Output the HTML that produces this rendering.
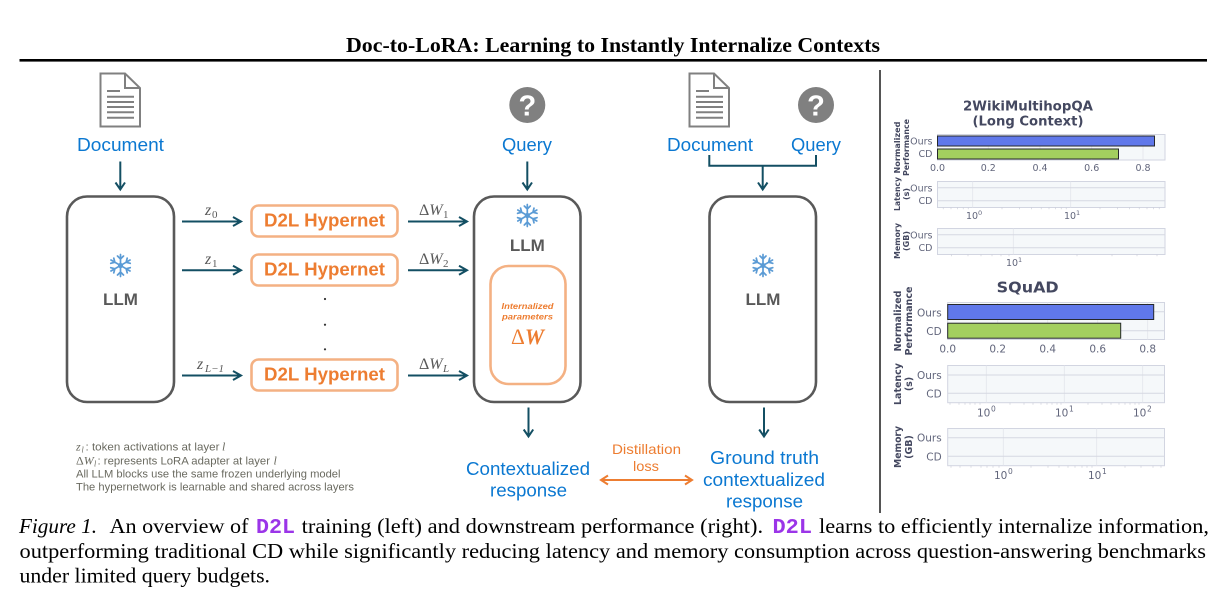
<!DOCTYPE html>
<html lang="en"><head><meta charset="utf-8"><title>Doc-to-LoRA</title>
<style>html,body{margin:0;padding:0;background:#fff;width:1224px;height:601px;overflow:hidden}svg{display:block}
.sa{font-family:"Liberation Sans",sans-serif}.se{font-family:"Liberation Serif",serif}.dj{font-family:"DejaVu Sans",sans-serif}
.blue{font-size:18px;fill:#0b78d1}.hyp{font-size:18px;font-weight:bold;fill:#ed7d31}.llm{font-size:17px;font-weight:bold;fill:#595959;text-anchor:middle}
.m{font-style:italic;font-size:16px;fill:#595959}.up{font-style:normal}.sub{font-size:11px;fill:#595959}
.leg{font-size:11px;fill:#6a6a60}.cap{font-size:21px;fill:#000}.d2l{font-family:"Liberation Mono",monospace;font-weight:bold;font-size:21px;fill:#9b35e8}
.y1{font-size:8px;font-weight:bold;fill:#444860;text-anchor:middle}.y2{font-size:9.5px;font-weight:bold;fill:#444860;text-anchor:middle}
.t1{font-size:9.5px;fill:#62667c}.t2{font-size:10.5px;fill:#62667c}.r{text-anchor:end}.c{text-anchor:middle}
.arr{fill:none;stroke:#134f63;stroke-width:2}.box{fill:#fff;stroke:#595959;stroke-width:2.6}.hb{fill:#fff;stroke:#f4b183;stroke-width:2.6}
.plot{fill:#f5f8fa;stroke:#d2d5e1;stroke-width:1}.g{stroke:#e3e5ec;stroke-width:.8;fill:none}.h{stroke:#d5d8e1;stroke-width:1;fill:none}.mt{stroke:#c5c8d4;stroke-width:.6;fill:none}
.bar{stroke:#26282c;stroke-width:1}</style></head><body>
<svg width="1224" height="601" viewBox="0 0 1224 601" xmlns="http://www.w3.org/2000/svg">
<defs>
<g id="flake" fill="none" stroke="#5b9bd5" stroke-width="1.7" stroke-linecap="round">
<circle r="2.6" fill="#5b9bd5" stroke="none"/>
<path d="M0-11V11M-3-9.500 0-6.500 3-9.500M-3 9.500 0 6.500 3 9.500"/>
<g transform="rotate(60)"><path d="M0-11V11M-3-9.500 0-6.500 3-9.500M-3 9.500 0 6.500 3 9.500"/></g>
<g transform="rotate(120)"><path d="M0-11V11M-3-9.500 0-6.500 3-9.500M-3 9.500 0 6.500 3 9.500"/></g>
</g>
<g id="doc"><path d="M.5.5H25L40 15V53.500H.5Z" fill="#fff" stroke="#808080" stroke-width="2"/><path d="M25 .5V15H40" fill="none" stroke="#808080" stroke-width="2"/>
<path d="M7 18H20M7 23.700H34M7 29H34M7 34H34M7 39.300H34M7 44.700H34" stroke="#808080" stroke-width="2" fill="none"/></g>
</defs>

<text x="346" y="52" class="se" font-size="21.500" font-weight="bold" textLength="534" lengthAdjust="spacingAndGlyphs">Doc-to-LoRA: Learning to Instantly Internalize Contexts</text>
<rect x="19.500" y="59" width="1187.500" height="2.600" fill="#000"/>

<use href="#doc" x="100" y="73"/>
<text x="77" y="151" class="sa blue" textLength="87" lengthAdjust="spacingAndGlyphs">Document</text>
<path class="arr" d="M120.300 161.500V189M115.500 182.500 120.300 189.500 125 182.500"/>
<rect class="box" x="67" y="196.500" width="107" height="205.500" rx="20"/>
<use href="#flake" x="120.500" y="265.500"/>
<text x="120.500" y="305" class="sa llm">LLM</text>

<path class="arr" d="M182 221.500H240M233 217 241 221.500 233 226M182 270.300H240M233 265.800 241 270.300 233 274.800M182 375.500H240M233 371 241 375.500 233 380"/>
<path class="arr" d="M408 221.500H466M459 217 467 221.500 459 226M408 270.300H466M459 265.800 467 270.300 459 274.800M408 375.500H466M459 371 467 375.500 459 380"/>
<text x="205" y="215" class="se m">z</text><text x="212" y="218" class="se sub">0</text>
<text x="205" y="264" class="se m">z</text><text x="212" y="267" class="se sub">1</text>
<text x="197" y="369" class="se m">z</text><text x="205" y="372" class="se sub" font-style="italic">L−1</text>
<text x="419" y="215" class="se m"><tspan class="up">Δ</tspan>W</text><text x="443" y="218" class="se sub">1</text>
<text x="419" y="264" class="se m"><tspan class="up">Δ</tspan>W</text><text x="443" y="267" class="se sub">2</text>
<text x="419" y="369" class="se m"><tspan class="up">Δ</tspan>W</text><text x="443" y="372" class="se sub" font-style="italic">L</text>

<rect class="hb" x="251.500" y="205.500" width="146" height="31" rx="7"/>
<rect class="hb" x="251.500" y="254.500" width="146" height="31" rx="7"/>
<rect class="hb" x="251.500" y="359.500" width="146" height="31" rx="7"/>
<text x="264" y="226.700" class="sa hyp" textLength="121" lengthAdjust="spacingAndGlyphs">D2L Hypernet</text>
<text x="264" y="275.700" class="sa hyp" textLength="121" lengthAdjust="spacingAndGlyphs">D2L Hypernet</text>
<text x="264" y="380.700" class="sa hyp" textLength="121" lengthAdjust="spacingAndGlyphs">D2L Hypernet</text>
<circle cx="325" cy="299" r="1.100" fill="#333"/><circle cx="325" cy="324.700" r="1.100" fill="#333"/><circle cx="325" cy="349.300" r="1.100" fill="#333"/>

<circle cx="527.300" cy="105" r="18" fill="#808080"/>
<text x="527.300" y="115.500" class="sa c" font-size="29" font-weight="bold" fill="#fff">?</text>
<text x="502" y="151" class="sa blue" textLength="50" lengthAdjust="spacingAndGlyphs">Query</text>
<path class="arr" d="M527.300 161.500V189M522.500 182.500 527.300 189.500 532 182.500"/>
<rect class="box" x="474" y="196.500" width="106.500" height="205.500" rx="20"/>
<use href="#flake" x="527.300" y="215.500"/>
<text x="527.300" y="251" class="sa llm">LLM</text>
<rect x="490.500" y="266" width="75" height="118" rx="18" fill="#fff" stroke="#f4b183" stroke-width="2.600"/>
<text x="527.500" y="309" class="sa c" font-size="8.500" font-weight="bold" font-style="italic" fill="#ed7d31" textLength="52" lengthAdjust="spacingAndGlyphs">Internalized</text>
<text x="527.500" y="319.500" class="sa c" font-size="8.500" font-weight="bold" font-style="italic" fill="#ed7d31" textLength="51" lengthAdjust="spacingAndGlyphs">parameters</text>
<text x="511" y="344" class="se" font-size="22" font-weight="bold" font-style="italic" fill="#ed7d31" textLength="33" lengthAdjust="spacingAndGlyphs"><tspan font-style="normal" font-weight="normal">Δ</tspan>W</text>
<path class="arr" d="M528.500 407.500V436M523.700 429.500 528.500 436.500 533.200 429.500"/>
<text x="466" y="475" class="sa blue" textLength="124" lengthAdjust="spacingAndGlyphs">Contextualized</text>
<text x="490" y="496.500" class="sa blue" textLength="77" lengthAdjust="spacingAndGlyphs">response</text>

<use href="#doc" x="689" y="73"/>
<circle cx="816" cy="105" r="18" fill="#808080"/>
<text x="816" y="115.500" class="sa c" font-size="29" font-weight="bold" fill="#fff">?</text>
<text x="667" y="151" class="sa blue" textLength="86" lengthAdjust="spacingAndGlyphs">Document</text>
<text x="791" y="151" class="sa blue" textLength="50" lengthAdjust="spacingAndGlyphs">Query</text>
<path class="arr" d="M709.300 155V165.700H816V155M762.700 165.700V189M758 182.500 762.700 189.500 767.500 182.500"/>
<rect class="box" x="709.500" y="196.500" width="106.500" height="205.500" rx="20"/>
<use href="#flake" x="763" y="265.500"/>
<text x="763" y="305" class="sa llm">LLM</text>
<path class="arr" d="M764 407.500V436M759.200 429.500 764 436.500 768.700 429.500"/>
<text x="710" y="464" class="sa blue" textLength="109" lengthAdjust="spacingAndGlyphs">Ground truth</text>
<text x="703" y="486" class="sa blue" textLength="122" lengthAdjust="spacingAndGlyphs">contextualized</text>
<text x="726" y="507.500" class="sa blue" textLength="77" lengthAdjust="spacingAndGlyphs">response</text>

<text x="612" y="454" class="sa" font-size="14" fill="#ed7d31" textLength="69" lengthAdjust="spacingAndGlyphs">Distillation</text>
<text x="633" y="471" class="sa" font-size="14" fill="#ed7d31" textLength="26" lengthAdjust="spacingAndGlyphs">loss</text>
<path d="M602 480H691M608 475.500 601 480 608 484.500M685 475.500 692 480 685 484.500" fill="none" stroke="#ed7d31" stroke-width="2"/>

<g class="sa leg">
<text x="76" y="450.700" class="se" font-style="italic" font-size="12">z</text><text x="81.500" y="452.700" class="se" font-style="italic" font-size="8">l</text>
<text x="85.500" y="450.700" textLength="134" lengthAdjust="spacingAndGlyphs">: token activations at layer</text><text x="222" y="450.700" class="se" font-style="italic" font-size="12">l</text>
<text x="76" y="464.700" class="se" font-style="italic" font-size="12"><tspan font-style="normal">Δ</tspan>W</text><text x="94" y="466.700" class="se" font-style="italic" font-size="8">l</text>
<text x="97.500" y="464.700" textLength="172.500" lengthAdjust="spacingAndGlyphs">: represents LoRA adapter at layer</text><text x="273.500" y="464.700" class="se" font-style="italic" font-size="12">l</text>
<text x="76" y="477.700" textLength="264.500" lengthAdjust="spacingAndGlyphs">All LLM blocks use the same frozen underlying model</text>
<text x="76" y="490.500" textLength="278" lengthAdjust="spacingAndGlyphs">The hypernetwork is learnable and shared across layers</text>
</g>

<rect x="879" y="70" width="2" height="443" fill="#555"/>

<!-- chart 1 -->
<text x="1028" y="110.700" class="dj c" font-size="13.500" font-weight="bold" fill="#444860" textLength="130" lengthAdjust="spacingAndGlyphs">2WikiMultihopQA</text>
<text x="1028" y="125.700" class="dj c" font-size="13.500" font-weight="bold" fill="#444860" textLength="111" lengthAdjust="spacingAndGlyphs">(Long Context)</text>
<rect class="plot" x="937.500" y="134.500" width="227.500" height="25.500"/>
<path class="g" d="M988.300 134.500V160M1040 134.500V160M1091.700 134.500V160M1143 134.500V160"/>
<rect class="bar" x="937.500" y="136" width="217" height="10" fill="#6078ea"/>
<rect class="bar" x="937.500" y="149" width="181" height="10" fill="#a3cf5f"/>
<g class="dj t1"><text x="932.500" y="144.500" class="r">Ours</text><text x="932.500" y="157" class="r">CD</text>
<text x="937.500" y="171" class="c">0.0</text><text x="988.300" y="171" class="c">0.2</text><text x="1040" y="171" class="c">0.4</text><text x="1091.700" y="171" class="c">0.6</text><text x="1143" y="171" class="c">0.8</text></g>
<g class="dj y1"><text transform="translate(900,147.500) rotate(-90)" textLength="52" lengthAdjust="spacingAndGlyphs">Normalized</text><text transform="translate(909,147.500) rotate(-90)" textLength="57" lengthAdjust="spacingAndGlyphs">Performance</text>
<text transform="translate(900,194) rotate(-90)" textLength="34" lengthAdjust="spacingAndGlyphs">Latency</text><text transform="translate(909,194) rotate(-90)">(s)</text>
<text transform="translate(900,241) rotate(-90)" textLength="36" lengthAdjust="spacingAndGlyphs">Memory</text><text transform="translate(909,241) rotate(-90)">(GB)</text></g>

<rect class="plot" x="937.500" y="181.500" width="227.500" height="26"/>
<path class="g" d="M972.700 181.500V207.500M1070.700 181.500V207.500"/>
<path class="h" d="M937.500 187.700H1165M937.500 200.700H1165"/>
<path class="mt" d="M943.200 207.500v1.800M951 207.500v1.800M957.500 207.500v1.800M963.200 207.500v1.800M968.200 207.500v1.800M1002 207.500v1.800M1019.500 207.500v1.800M1031.700 207.500v1.800M1041.200 207.500v1.800M1049 207.500v1.800M1055.500 207.500v1.800M1061.200 207.500v1.800M1066.200 207.500v1.800M1100 207.500v1.800M1117.500 207.500v1.800M1129.700 207.500v1.800M1139.200 207.500v1.800M1147 207.500v1.800M1153.500 207.500v1.800M1159.200 207.500v1.800"/>
<g class="dj t1"><text x="932.500" y="191.500" class="r">Ours</text><text x="932.500" y="204" class="r">CD</text>
<text x="966" y="219">10</text><text x="978" y="215" font-size="6.500">0</text>
<text x="1064" y="219">10</text><text x="1076" y="215" font-size="6.500">1</text></g>

<rect class="plot" x="937.500" y="228.500" width="227.500" height="26"/>
<path class="g" d="M1013.300 228.500V254.500"/>
<path class="h" d="M937.500 234.700H1165M937.500 247.700H1165"/>
<path class="mt" d="M951.500 254.500v1.800M968 254.500v1.800M981 254.500v1.800M992 254.500v1.800M1001 254.500v1.800M1009 254.500v1.800M1077 254.500v1.800M1112 254.500v1.800M1137 254.500v1.800M1157 254.500v1.800"/>
<g class="dj t1"><text x="932.500" y="238.500" class="r">Ours</text><text x="932.500" y="251" class="r">CD</text>
<text x="1006" y="266">10</text><text x="1018" y="262" font-size="6.500">1</text></g>

<!-- chart 2 -->
<text x="1027.700" y="292.700" class="dj c" font-size="15.500" font-weight="bold" fill="#444860" textLength="62" lengthAdjust="spacingAndGlyphs">SQuAD</text>
<rect class="plot" x="947.700" y="302.500" width="216.800" height="37"/>
<path class="g" d="M997.700 302.500V339.500M1047.700 302.500V339.500M1097.700 302.500V339.500M1147.700 302.500V339.500"/>
<path class="h" d="M1153.700 311.800H1164.500M1120.700 330.700H1164.500"/>
<rect class="bar" x="947.700" y="304.500" width="206" height="15" fill="#6078ea"/>
<rect class="bar" x="947.700" y="323.200" width="173" height="15" fill="#a3cf5f"/>
<g class="dj t2"><text x="941.700" y="316.500" class="r">Ours</text><text x="941.700" y="335" class="r">CD</text>
<text x="947.700" y="352.700" class="c">0.0</text><text x="997.700" y="352.700" class="c">0.2</text><text x="1047.700" y="352.700" class="c">0.4</text><text x="1097.700" y="352.700" class="c">0.6</text><text x="1147.700" y="352.700" class="c">0.8</text></g>
<g class="dj y2"><text transform="translate(901,321) rotate(-90)" textLength="61" lengthAdjust="spacingAndGlyphs">Normalized</text><text transform="translate(912,321) rotate(-90)" textLength="69" lengthAdjust="spacingAndGlyphs">Performance</text>
<text transform="translate(901,384) rotate(-90)" textLength="42" lengthAdjust="spacingAndGlyphs">Latency</text><text transform="translate(912,384) rotate(-90)">(s)</text>
<text transform="translate(901,447) rotate(-90)" textLength="42" lengthAdjust="spacingAndGlyphs">Memory</text><text transform="translate(912,447) rotate(-90)">(GB)</text></g>

<rect class="plot" x="947.700" y="365.500" width="216.800" height="37.200"/>
<path class="g" d="M986.300 365.500V402.700M1064.300 365.500V402.700M1142.700 365.500V402.700"/>
<path class="h" d="M947.700 375H1164.500M947.700 393.300H1164.500"/>
<path class="mt" d="M950 402.700v2M959 402.700v2M965 402.700v2M970 402.700v2M975 402.700v2M980 402.700v2M1010 402.700v2M1024 402.700v2M1033 402.700v2M1041 402.700v2M1047 402.700v2M1052 402.700v2M1057 402.700v2M1061 402.700v2M1088 402.700v2M1102 402.700v2M1111 402.700v2M1119 402.700v2M1125 402.700v2M1130 402.700v2M1135 402.700v2M1139 402.700v2"/>
<g class="dj t2"><text x="941.700" y="379" class="r">Ours</text><text x="941.700" y="397.300" class="r">CD</text>
<text x="977" y="416.700">10</text><text x="991" y="411.500" font-size="7.500">0</text>
<text x="1055" y="416.700">10</text><text x="1069" y="411.500" font-size="7.500">1</text>
<text x="1133" y="416.700">10</text><text x="1147" y="411.500" font-size="7.500">2</text></g>

<rect class="plot" x="947.700" y="428.500" width="216.800" height="37.200"/>
<path class="g" d="M1003.300 428.500V465.700M1096.700 428.500V465.700"/>
<path class="h" d="M947.700 437.700H1164.500M947.700 456.300H1164.500"/>
<path class="mt" d="M951 465.700v2M960 465.700v2M971 465.700v2M981 465.700v2M987 465.700v2M993 465.700v2M999 465.700v2M1031 465.700v2M1048 465.700v2M1059 465.700v2M1068 465.700v2M1075 465.700v2M1082 465.700v2M1087 465.700v2M1092 465.700v2M1125 465.700v2M1141 465.700v2M1153 465.700v2M1161 465.700v2"/>
<g class="dj t2"><text x="941.700" y="441.700" class="r">Ours</text><text x="941.700" y="460.300" class="r">CD</text>
<text x="994" y="479">10</text><text x="1008" y="474" font-size="7.500">0</text>
<text x="1088" y="479">10</text><text x="1102" y="474" font-size="7.500">1</text></g>

<!-- caption -->
<g class="se cap">
<text x="19" y="533" font-style="italic" textLength="78" lengthAdjust="spacingAndGlyphs">Figure 1.</text>
<text x="109.500" y="533" textLength="139" lengthAdjust="spacingAndGlyphs">An overview of</text>
<text x="256" y="533" class="d2l" textLength="39" lengthAdjust="spacingAndGlyphs">D2L</text>
<text x="301.600" y="533" textLength="461.500" lengthAdjust="spacingAndGlyphs">training (left) and downstream performance (right).</text>
<text x="772.500" y="533" class="d2l" textLength="39.500" lengthAdjust="spacingAndGlyphs">D2L</text>
<text x="819" y="533" textLength="390" lengthAdjust="spacingAndGlyphs">learns to efficiently internalize information,</text>
<text x="19.500" y="558" textLength="1186.500" lengthAdjust="spacingAndGlyphs">outperforming traditional CD while significantly reducing latency and memory consumption across question-answering benchmarks</text>
<text x="19.500" y="582.500" textLength="250.500" lengthAdjust="spacingAndGlyphs">under limited query budgets.</text>
</g>
</svg>
</body></html>
